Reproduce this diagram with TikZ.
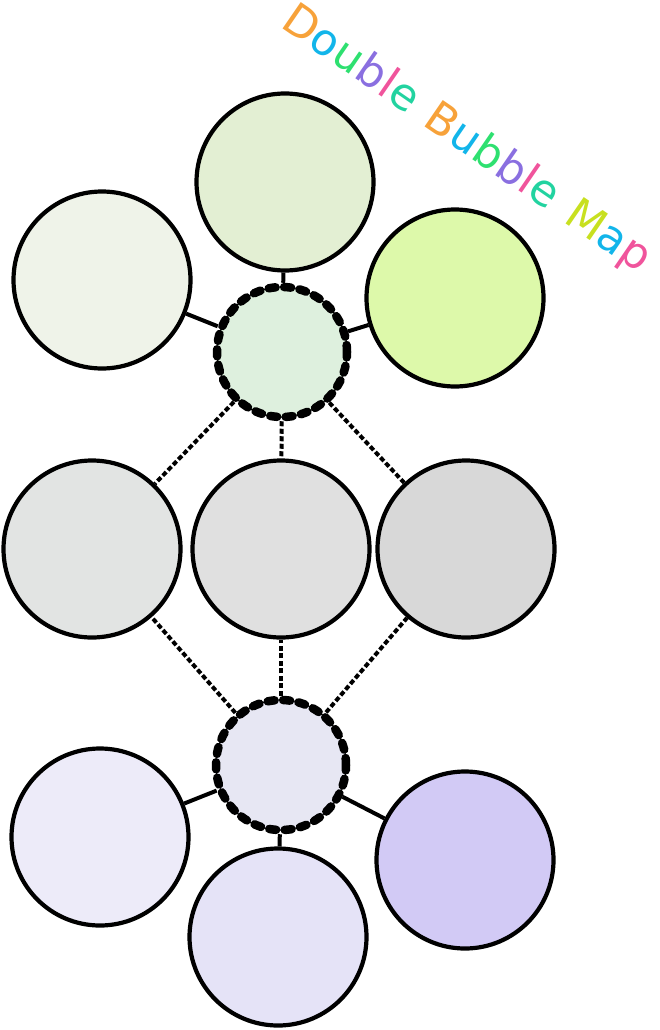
\documentclass[tikz,border=0pt]{standalone}
\usepackage{fontspec}
\newfontfamily\titlefont[LetterSpace=8]{DejaVu Sans}
\definecolor{ctl}{HTML}{EFF3E9}
\definecolor{ctc}{HTML}{E3EFD3}
\definecolor{ctr}{HTML}{DDF9AA}
\definecolor{cdt}{HTML}{DEF0DE}
\definecolor{cml}{HTML}{E2E4E3}
\definecolor{cmc}{HTML}{E0E0E0}
\definecolor{cmr}{HTML}{D8D8D8}
\definecolor{cdb}{HTML}{E7E7F3}
\definecolor{cbl}{HTML}{EDEBF9}
\definecolor{cbc}{HTML}{E5E3F7}
\definecolor{cbr}{HTML}{D2CAF5}
\definecolor{r1}{HTML}{22D3A0}
\definecolor{r2}{HTML}{12B5EA}
\definecolor{r3}{HTML}{8A6FE0}
\definecolor{r4}{HTML}{F0549C}
\definecolor{r5}{HTML}{F7A23A}
\definecolor{r6}{HTML}{C8E020}
\definecolor{r7}{HTML}{2EE070}
\begin{document}
\begin{tikzpicture}[x=1pt,y=-1pt,
  bubble/.style={circle,draw=black,line width=4.2pt,minimum size=177pt,inner sep=0pt},
  hub/.style={circle,draw=black,line width=8.5pt,minimum size=130pt,inner sep=0pt,
    dash pattern=on 7pt off 8.5pt,line cap=round},
  solidlink/.style={draw=black,line width=4pt},
  dashlink/.style={draw=black,line width=4pt,dash pattern=on 5pt off 2.5pt}]
\useasboundingbox (0,0) rectangle (660,1030);
\node[bubble,fill=ctl] (tl) at (102,280) {};
\node[bubble,fill=ctc] (tc) at (285,182) {};
\node[bubble,fill=ctr] (tr) at (455,298) {};
\node[hub,fill=cdt] (ht) at (282,352) {};
\node[bubble,fill=cml] (ml) at (92,549) {};
\node[bubble,fill=cmc] (mc) at (281,549) {};
\node[bubble,fill=cmr] (mr) at (466,549) {};
\node[hub,fill=cdb] (hb) at (281,765) {};
\node[bubble,fill=cbl] (bl) at (100,837) {};
\node[bubble,fill=cbc] (bc) at (278,937) {};
\node[bubble,fill=cbr] (br) at (465,860) {};
\draw[solidlink] (ht) -- (tl);
\draw[solidlink] (ht) -- (tc);
\draw[solidlink] (ht) -- (tr);
\draw[dashlink] (ht) -- (ml);
\draw[dashlink] (ht) -- (mc);
\draw[dashlink] (ht) -- (mr);
\draw[dashlink] (hb) -- (ml);
\draw[dashlink] (hb) -- (mc);
\draw[dashlink] (hb) -- (mr);
\draw[solidlink] (hb) -- (bl);
\draw[solidlink] (hb) -- (bc);
\draw[solidlink] (hb) -- (br);
\node[rotate=-34.5,font=\titlefont\fontsize{44}{48}\selectfont,inner sep=0pt] (title) at (466,140)
 {\textcolor{r5}{D}\textcolor{r2}{o}\textcolor{r7}{u}\textcolor{r3}{b}\textcolor{r4}{l}\textcolor{r1}{e}\ %
  \textcolor{r5}{B}\textcolor{r2}{u}\textcolor{r7}{b}\textcolor{r3}{b}\textcolor{r4}{l}\textcolor{r1}{e}\ %
  \textcolor{r6}{M}\textcolor{r2}{a}\textcolor{r4}{p}};
\end{tikzpicture}
\end{document}
